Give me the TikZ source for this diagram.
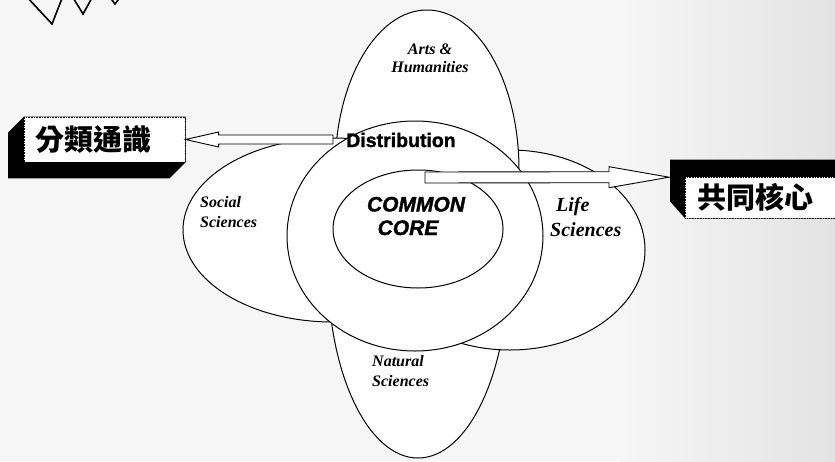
\documentclass[tikz,border=0pt]{standalone}
\usepackage{fontspec}
\setmainfont{Liberation Serif}
\newfontfamily\sansfont{Liberation Sans}
\newfontfamily\heavyfont{Liberation Sans}[FakeBold=1.5]
\newfontfamily\cjkfont{Noto Sans CJK TC}
\usetikzlibrary{shapes.geometric,calc,backgrounds}
\pgfdeclarelayer{bg}
\pgfsetlayers{bg,background,main}
\begin{document}
\begin{tikzpicture}[x=1pt,y=-1pt,
  region/.style={ellipse, draw, line width=1pt, fill=white, inner sep=0pt},
  tlab/.style={font=\fontsize{16}{18}\selectfont\bfseries\itshape, anchor=base west, inner sep=0pt},
  llab/.style={font=\fontsize{20}{22}\selectfont\bfseries\itshape, anchor=base west, inner sep=0pt},
  corelab/.style={font=\heavyfont\bfseries\itshape\fontsize{21}{22}\selectfont, anchor=base, inner sep=0pt},
  boxface/.style={draw, densely dotted, line width=0.6pt, fill=white, anchor=west, align=left,
     font=\cjkfont\bfseries\fontsize{29}{30}\selectfont},
  shade3d/.style={fill=black},
  blockarrow/.style={draw, fill=white, line width=0.9pt, line join=miter},
  burst/.style={draw, line width=1.6pt, line join=miter}
]
\useasboundingbox (0,0) rectangle (835,461);
\begin{pgfonlayer}{bg}
\fill[gray!7] (0,0) rectangle (835,461);
\shade[left color=gray!7, right color=gray!22] (620,0) rectangle (835,461);
\end{pgfonlayer}
\begin{scope}
\clip (0,0) rectangle (835,461);
% starburst (partly off the top edge)
\draw[burst] (26,-4) -- (52,24) -- (63,-4);
\draw[burst] (72,-4) -- (83,14) -- (93,-4);
\draw[burst] (109,-4) -- (115,4) -- (121,-4);

% regions
\node[region, minimum width=180pt, minimum height=376pt] (nat) at (418,270) {};
\node[region, minimum width=270pt, minimum height=200pt] (life) at (510,250) {};
\node[region, minimum width=184pt, minimum height=320pt] (arts) at (427,170) {};
\node[region, minimum width=300pt, minimum height=184pt] (soc) at (333,230) {};
\node[region, minimum width=256pt, minimum height=230pt] (dist) at (415,236) {};
\node[region, minimum width=170pt, minimum height=118pt] (core) at (418,229) {};

% labels
\node[tlab, anchor=base] (artsA) at (430,54) {Arts \&};
\node[tlab, anchor=base] (artsB) at (430,72) {Humanities};
\node[tlab] (socA) at (200,207.5) {Social};
\node[tlab] (socB) at (200,227) {Sciences};
\node[llab] (lifeA) at (556,211.5) {Life};
\node[llab] (lifeB) at (550,236.5) {Sciences};
\node[tlab] (natA) at (372,366.5) {Natural};
\node[tlab] (natB) at (372,386.5) {Sciences};
\node[font=\heavyfont\bfseries\fontsize{19.5}{20}\selectfont, anchor=base, inner sep=0pt] (distlab) at (401,147) {Distribution};
\node[corelab] (coreA) at (416,211.5) {COMMON};
\node[corelab] (coreB) at (408,235) {CORE};

% boxes
\node[boxface, text width=139pt, inner xsep=11pt, minimum height=45pt] (lbox) at (24,139.5) {分類通識};
\node[boxface, text width=151pt, inner xsep=12pt, minimum height=41pt] (rbox) at (685,197.5) {共同核心};
\begin{pgfonlayer}{background}
\fill[shade3d] (lbox.north west) -- ($(lbox.north west)+(-16,16)$) -- ($(lbox.south west)+(-16,16)$)
   -- ($(lbox.south east)+(-16,16)$) -- (lbox.south east) -- (lbox.north east) -- cycle;
\fill[shade3d] (rbox.south west) -- ($(rbox.south west)+(-15,-17)$) -- ($(rbox.north west)+(-15,-17)$)
   -- ($(rbox.north east)+(-15,-17)$) -- (rbox.north east) -- (rbox.south east) -- cycle;
\end{pgfonlayer}

% block arrows
\coordinate (ltail) at (333,139.5);
\coordinate (rtail) at (425,177.5);
\coordinate (rtip) at ($(rbox.north west)+(-16,0.5)$);
\draw[blockarrow] (lbox.east) -- ++(33,-7.5) -- ++(0,3) -- ($(ltail)+(0,-4.5)$) -- ($(ltail)+(0,4.5)$)
   -- ($(lbox.east)+(33,4.5)$) -- ++(0,3) -- cycle;
\draw[blockarrow] (rtip) -- ++(-60,-10.5) -- ++(0,5) -- ($(rtail)+(0,-5.5)$) -- ($(rtail)+(0,5.5)$)
   -- ($(rtip)+(-60,5.5)$) -- ++(0,5) -- cycle;
\end{scope}
\end{tikzpicture}
\end{document}
